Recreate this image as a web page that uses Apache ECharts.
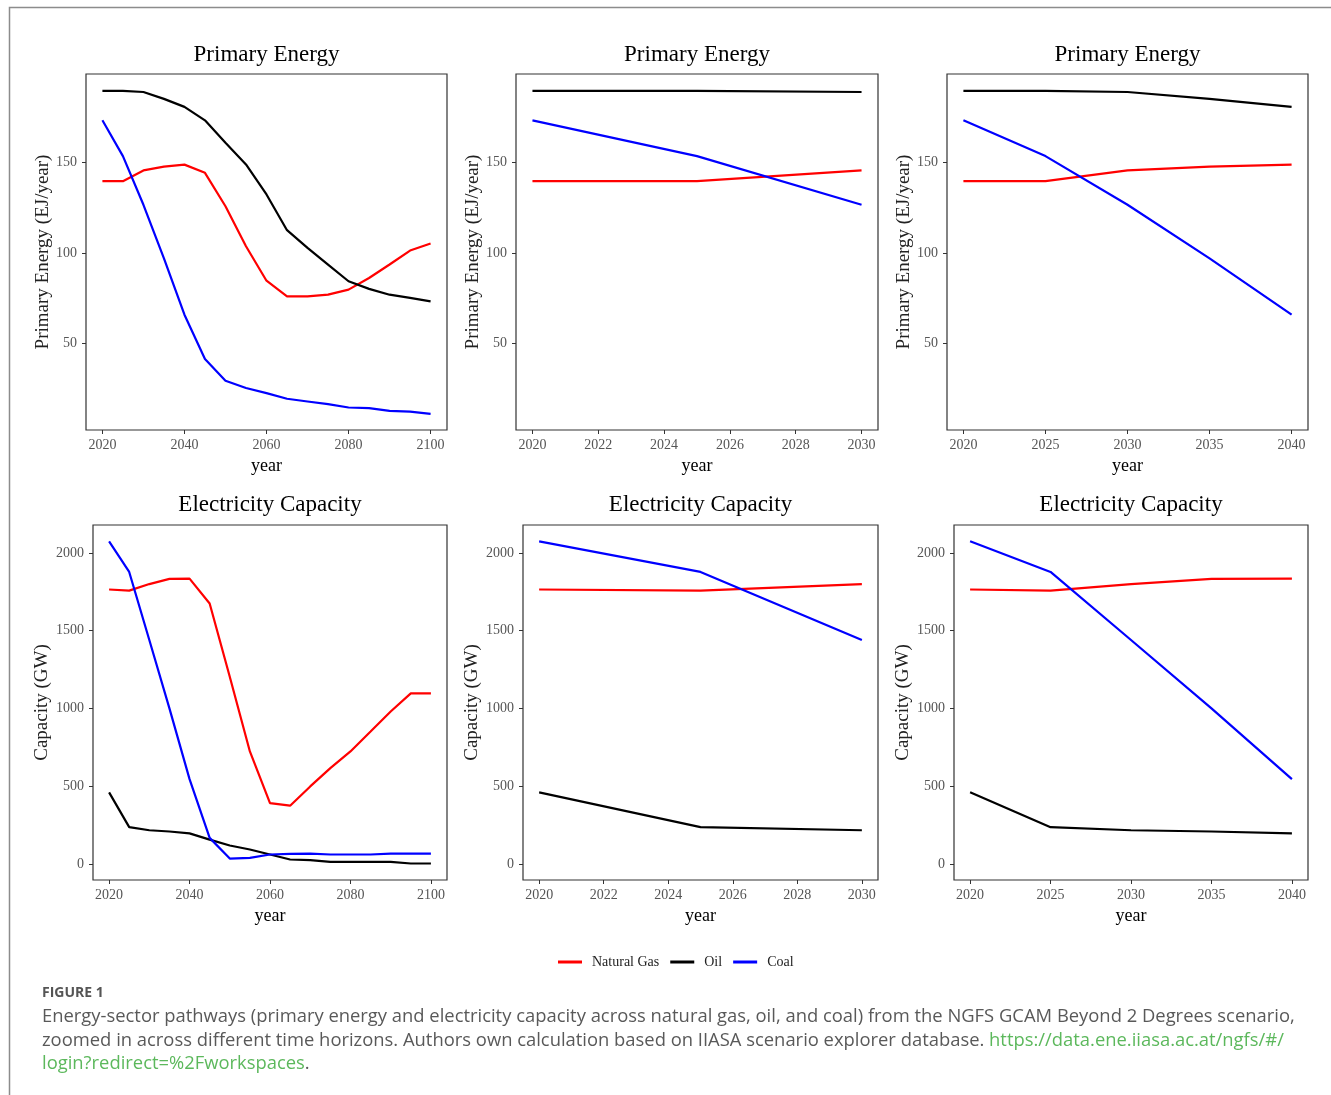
<!DOCTYPE html>
<html>
<head>
<meta charset="utf-8">
<title>Energy-sector pathways</title>
<script src="https://cdn.jsdelivr.net/npm/echarts/dist/echarts.min.js"></script>
<style>
  html, body { margin: 0; padding: 0; background: #fff; }
  #chart { width: 1331px; height: 1095px; }
</style>
</head>
<body>
<div id="chart"></div>
<script>
  // years of the GCAM output (5-year steps)
  var years = [2020, 2025, 2030, 2035, 2040, 2045, 2050, 2055, 2060, 2065, 2070, 2075, 2080, 2085, 2090, 2095, 2100]

  // Primary Energy (EJ/year)
  var peGas = [139.5, 139.5, 145.4, 147.5, 148.6, 144.1, 125.7, 103.7, 84.7, 76.1, 76.1, 77, 79.8, 86.2, 93.6, 101.3, 105.2]
  var peOil = [189.2, 189.2, 188.6, 184.8, 180.4, 173, 160.7, 148.7, 132.2, 112.5, 102.8, 93.6, 84.4, 80.2, 77, 75.2, 73.3]
  var peCoal = [173, 153.3, 126.5, 97, 66, 41.6, 29.6, 25.6, 22.8, 19.7, 18.2, 16.7, 14.9, 14.5, 13, 12.6, 11.4]

  // Electricity Capacity (GW)
  var capGas = [1765, 1758, 1800, 1833, 1835, 1675, 1204, 723, 391, 374, 498, 616, 723, 851, 980, 1097, 1097]
  var capOil = [460, 236, 216, 208, 196, 156, 118, 92, 60, 28, 24, 13, 13, 13, 13, 2, 2]
  var capCoal = [2075, 1878, 1440, 1000, 545, 167, 34, 38, 60, 64, 66, 60, 60, 60, 66, 66, 66]

  var seriesNames = ['Natural Gas', 'Oil', 'Coal']
  var seriesColors = ['#ff0000', '#000000', '#0000ff']

  // tick labels
  var peTicks = [50, 100, 150]
  var capTicks = [0, 500, 1000, 1500, 2000]
  var ticksLong = [2020, 2040, 2060, 2080, 2100]
  var ticksShort = [2020, 2022, 2024, 2026, 2028, 2030]
  var ticksMid = [2020, 2025, 2030, 2035, 2040]

  var serif = '"Liberation Serif", "Times New Roman", serif'

  var panels = [
    {title: 'Primary Energy', box: [86, 74, 361, 356], x: [2016, 2104], xt: ticksLong, end: 2100, kind: 'pe'},
    {title: 'Primary Energy', box: [516, 74, 362, 356], x: [2019.5, 2030.5], xt: ticksShort, end: 2030, kind: 'pe'},
    {title: 'Primary Energy', box: [947, 74, 361, 356], x: [2019, 2041], xt: ticksMid, end: 2040, kind: 'pe'},
    {title: 'Electricity Capacity', box: [93, 525, 354, 355], x: [2016, 2104], xt: ticksLong, end: 2100, kind: 'cap'},
    {title: 'Electricity Capacity', box: [523, 525, 355, 355], x: [2019.5, 2030.5], xt: ticksShort, end: 2030, kind: 'cap'},
    {title: 'Electricity Capacity', box: [954, 525, 354, 355], x: [2019, 2041], xt: ticksMid, end: 2040, kind: 'cap'}
  ]

  function pairs (vals, end) {
    var res = []
    for (var i = 0; i < years.length; i++) {
      if (years[i] <= end) res.push([years[i], vals[i]])
    }
    return res
  }

  function plain (v) { return String(v) }

  var grids = [], xAxes = [], yAxes = [], series = [], graphics = []

  panels.forEach(function (p, k) {
    var isPe = p.kind === 'pe'
    grids.push({
      left: p.box[0], top: p.box[1], width: p.box[2], height: p.box[3],
      show: true, borderColor: '#333', borderWidth: 1.2, containLabel: false
    })
    xAxes.push({
      type: 'value', gridIndex: k, min: p.x[0], max: p.x[1],
      name: 'year', nameLocation: 'middle', nameGap: 27,
      nameTextStyle: {fontFamily: serif, fontSize: 18, color: '#000'},
      axisLine: {show: false, onZero: false},
      axisTick: {show: true, length: 4, customValues: p.xt, lineStyle: {color: '#333'}},
      axisLabel: {customValues: p.xt, formatter: plain, margin: 8, fontFamily: serif, fontSize: 14, color: '#555'},
      splitLine: {show: false}
    })
    yAxes.push({
      type: 'value', gridIndex: k,
      min: isPe ? 2.5 : -104, max: isPe ? 198.5 : 2180,
      name: isPe ? 'Primary Energy (EJ/year)' : 'Capacity (GW)',
      nameLocation: 'middle', nameGap: isPe ? 33 : 41,
      nameTextStyle: {fontFamily: serif, fontSize: 19, color: '#222'},
      axisLine: {show: false, onZero: false},
      axisTick: {show: true, length: 4, customValues: isPe ? peTicks : capTicks, lineStyle: {color: '#333'}},
      axisLabel: {customValues: isPe ? peTicks : capTicks, formatter: plain, margin: 9, fontFamily: serif, fontSize: 14, color: '#555'},
      splitLine: {show: false}
    })
    var vals = isPe ? [peGas, peOil, peCoal] : [capGas, capOil, capCoal]
    for (var s = 0; s < 3; s++) {
      series.push({
        name: seriesNames[s], type: 'line', xAxisIndex: k, yAxisIndex: k,
        data: pairs(vals[s], p.end), symbol: 'none',
        lineStyle: {width: 2.2, color: seriesColors[s]}, itemStyle: {color: seriesColors[s]}
      })
    }
    graphics.push({
      type: 'text', x: p.box[0] + p.box[2] / 2, y: p.box[1] - (isPe ? 19 : 20),
      style: {text: p.title, fontFamily: serif, fontSize: 23, fill: '#000', textAlign: 'center', textVerticalAlign: 'middle'}
    })
  })

  // figure frame
  graphics.push({
    type: 'polyline', shape: {points: [[9.5, 1095], [9.5, 7.5], [1331, 7.5]]},
    style: {stroke: '#8c8c8c', lineWidth: 1.5, fill: null}
  })

  // caption
  var capFont = '"Open Sans", "Noto Sans", sans-serif'
  var capRich = {
    k: {fontFamily: capFont, fontSize: 18.4, fill: '#595959'},
    g: {fontFamily: capFont, fontSize: 18.4, fill: '#5cb85c'}
  }
  var captionLines = [
    '{k|Energy-sector pathways (primary energy and electricity capacity across natural gas, oil, and coal) from the NGFS GCAM Beyond 2 Degrees scenario,}',
    '{k|zoomed in across different time horizons. Authors own calculation based on IIASA scenario explorer database. }{g|https://data.ene.iiasa.ac.at/ngfs/#/}',
    '{g|login?redirect=%2Fworkspaces}{k|.}'
  ]
  graphics.push({
    type: 'text', x: 42, y: 993,
    style: {text: 'FIGURE 1', fontFamily: capFont, fontSize: 14, fontWeight: 'bold', fill: '#555', textVerticalAlign: 'middle'}
  })
  captionLines.forEach(function (t, i) {
    graphics.push({
      type: 'text', x: 42, y: 1017 + i * 23.5,
      style: {text: t, rich: capRich, textVerticalAlign: 'middle'}
    })
  })

  var chart = echarts.init(document.getElementById('chart'))
  chart.setOption({
    animation: false,
    backgroundColor: '#fff',
    legend: {
      data: seriesNames, left: 553, top: 950, itemGap: 11,
      itemWidth: 24, itemHeight: 3, icon: 'rect',
      textStyle: {fontFamily: serif, fontSize: 14, color: '#222', padding: [0, 0, 0, 5]}
    },
    grid: grids,
    xAxis: xAxes,
    yAxis: yAxes,
    series: series,
    graphic: graphics
  })
</script>
</body>
</html>
